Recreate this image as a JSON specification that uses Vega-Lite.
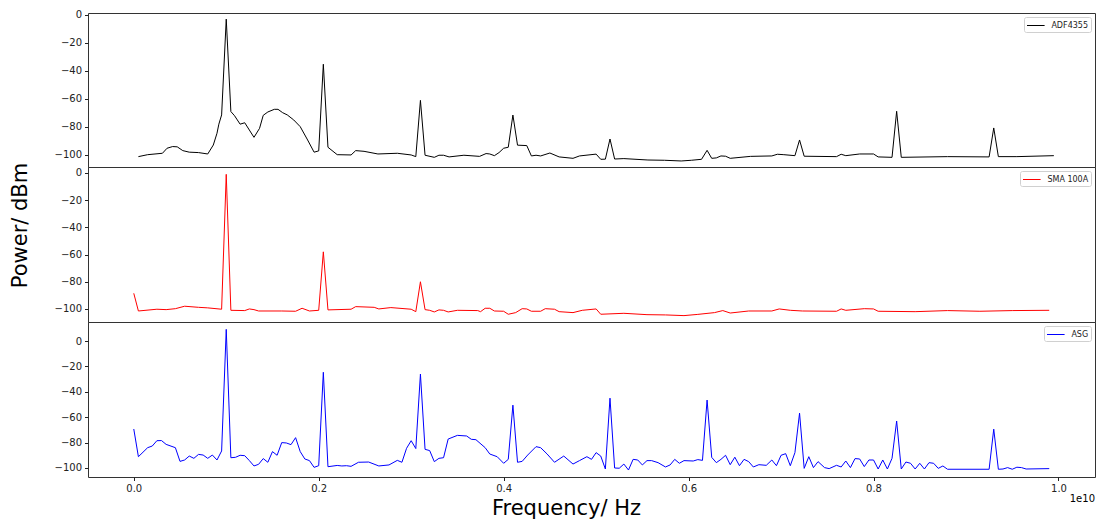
{
  "$schema": "https://vega.github.io/schema/vega-lite/v6.json",
  "description": "Spectra of three signal sources (ADF4355, SMA 100A, ASG), power against frequency, in three stacked panels.",
  "padding": {"left": 8, "top": 9, "right": 0, "bottom": 0},
  "spacing": 0,
  "bounds": "flush",
  "config": {
    "font": "DejaVu Sans",
    "view": {"stroke": "#333", "strokeWidth": 1},
    "axis": {
      "grid": false,
      "domain": false,
      "labelFont": "DejaVu Sans",
      "labelFontSize": 10,
      "labelColor": "#222",
      "labelPadding": 3,
      "labelOverlap": false,
      "tickColor": "#222",
      "tickSize": 3.5,
      "titleFont": "DejaVu Sans",
      "titleFontSize": 21,
      "titleFontWeight": "normal",
      "titleColor": "#000"
    },
    "legend": {
      "orient": "top-right",
      "offset": 4,
      "padding": 2.5,
      "title": null,
      "labelFont": "DejaVu Sans",
      "labelFontSize": 8,
      "labelColor": "#222",
      "labelOffset": 12.9,
      "symbolType": "M-1,0H2.2",
      "symbolSize": 121,
      "symbolStrokeWidth": 1,
      "symbolFillColor": "transparent",
      "strokeColor": "#d0d0d0",
      "fillColor": "#ffffff",
      "cornerRadius": 2
    }
  },
  "resolve": {
    "scale": {"x": "independent", "y": "independent", "color": "independent"},
    "legend": {"color": "independent"}
  },
  "datasets": {
    "adf": [
      {"f": 0.05, "p": -101.2}, {"f": 0.15, "p": -99.8}, {"f": 0.31, "p": -98.8}, {"f": 0.36, "p": -95.2},
      {"f": 0.42, "p": -94}, {"f": 0.47, "p": -94.2}, {"f": 0.53, "p": -96.9}, {"f": 0.6, "p": -98},
      {"f": 0.7, "p": -98.3}, {"f": 0.8, "p": -99.3}, {"f": 0.86, "p": -92.9}, {"f": 0.9, "p": -84.5},
      {"f": 0.92, "p": -78}, {"f": 0.95, "p": -71.4}, {"f": 1.0, "p": -3}, {"f": 1.05, "p": -69},
      {"f": 1.09, "p": -72}, {"f": 1.12, "p": -75}, {"f": 1.15, "p": -78}, {"f": 1.2, "p": -77},
      {"f": 1.3, "p": -87.4}, {"f": 1.36, "p": -81}, {"f": 1.4, "p": -71.7}, {"f": 1.45, "p": -69.3},
      {"f": 1.52, "p": -67.4}, {"f": 1.56, "p": -67.4}, {"f": 1.61, "p": -69.8}, {"f": 1.66, "p": -71.4},
      {"f": 1.73, "p": -75}, {"f": 1.8, "p": -79.8}, {"f": 1.88, "p": -89.3}, {"f": 1.95, "p": -98},
      {"f": 2.0, "p": -97.1}, {"f": 2.05, "p": -35.2}, {"f": 2.1, "p": -94.5}, {"f": 2.2, "p": -99.8},
      {"f": 2.35, "p": -100}, {"f": 2.4, "p": -96.9}, {"f": 2.49, "p": -97.4}, {"f": 2.64, "p": -99.3},
      {"f": 2.85, "p": -98.8}, {"f": 3.0, "p": -100}, {"f": 3.05, "p": -101.2}, {"f": 3.1, "p": -61},
      {"f": 3.15, "p": -100.2}, {"f": 3.25, "p": -101.7}, {"f": 3.3, "p": -100.2}, {"f": 3.35, "p": -100.2},
      {"f": 3.41, "p": -101.4}, {"f": 3.57, "p": -100.2}, {"f": 3.74, "p": -101}, {"f": 3.81, "p": -99},
      {"f": 3.85, "p": -99.3}, {"f": 3.9, "p": -100.5}, {"f": 3.95, "p": -98.3}, {"f": 4.0, "p": -95.2},
      {"f": 4.05, "p": -94.5}, {"f": 4.1, "p": -71.5}, {"f": 4.15, "p": -93}, {"f": 4.25, "p": -93.3},
      {"f": 4.3, "p": -100.7}, {"f": 4.35, "p": -100.2}, {"f": 4.4, "p": -100.7}, {"f": 4.5, "p": -98.6},
      {"f": 4.6, "p": -101.4}, {"f": 4.75, "p": -102.4}, {"f": 4.82, "p": -100.7}, {"f": 5.0, "p": -99.4},
      {"f": 5.05, "p": -103.1}, {"f": 5.1, "p": -103}, {"f": 5.15, "p": -88.6}, {"f": 5.2, "p": -102.9},
      {"f": 5.3, "p": -102.6}, {"f": 5.56, "p": -103.6}, {"f": 5.74, "p": -103.8}, {"f": 5.92, "p": -104.3},
      {"f": 6.03, "p": -103.8}, {"f": 6.14, "p": -103.1}, {"f": 6.2, "p": -96.7}, {"f": 6.25, "p": -102.4},
      {"f": 6.3, "p": -102.1}, {"f": 6.35, "p": -100.7}, {"f": 6.4, "p": -100.9}, {"f": 6.45, "p": -102.4},
      {"f": 6.67, "p": -101}, {"f": 6.9, "p": -100.7}, {"f": 6.96, "p": -99.5}, {"f": 7.03, "p": -99.8},
      {"f": 7.15, "p": -100.5}, {"f": 7.2, "p": -89.3}, {"f": 7.25, "p": -100.9}, {"f": 7.6, "p": -101.2},
      {"f": 7.65, "p": -99.5}, {"f": 7.7, "p": -100.5}, {"f": 7.85, "p": -99.3}, {"f": 8.0, "p": -99.3},
      {"f": 8.05, "p": -101.4}, {"f": 8.2, "p": -101.7}, {"f": 8.25, "p": -68.8}, {"f": 8.3, "p": -101.7},
      {"f": 8.8, "p": -101.2}, {"f": 9.25, "p": -101.4}, {"f": 9.3, "p": -80.7}, {"f": 9.35, "p": -101.2},
      {"f": 9.55, "p": -101.2}, {"f": 9.95, "p": -100.5}
    ],
    "sma": [
      {"f": 0.0, "p": -88.5}, {"f": 0.05, "p": -101.5}, {"f": 0.25, "p": -100.2}, {"f": 0.35, "p": -100.5},
      {"f": 0.45, "p": -99.8}, {"f": 0.55, "p": -98}, {"f": 0.7, "p": -98.8}, {"f": 0.8, "p": -99.2},
      {"f": 0.95, "p": -100.2}, {"f": 1.0, "p": -1}, {"f": 1.05, "p": -101}, {"f": 1.2, "p": -101.2},
      {"f": 1.25, "p": -100}, {"f": 1.3, "p": -100.5}, {"f": 1.35, "p": -101.5}, {"f": 1.6, "p": -101.5},
      {"f": 1.75, "p": -101.7}, {"f": 1.82, "p": -99.5}, {"f": 1.9, "p": -101.5}, {"f": 2.0, "p": -101},
      {"f": 2.05, "p": -58}, {"f": 2.1, "p": -100.7}, {"f": 2.35, "p": -100.2}, {"f": 2.4, "p": -98.3},
      {"f": 2.6, "p": -98.8}, {"f": 2.65, "p": -100}, {"f": 2.78, "p": -99}, {"f": 3.0, "p": -100.2},
      {"f": 3.05, "p": -102}, {"f": 3.1, "p": -80}, {"f": 3.15, "p": -100.5}, {"f": 3.2, "p": -101},
      {"f": 3.25, "p": -102.2}, {"f": 3.3, "p": -100.7}, {"f": 3.35, "p": -101}, {"f": 3.4, "p": -102.2},
      {"f": 3.5, "p": -101}, {"f": 3.72, "p": -101.2}, {"f": 3.75, "p": -102}, {"f": 3.8, "p": -99.5},
      {"f": 3.85, "p": -99.5}, {"f": 3.9, "p": -101.5}, {"f": 4.0, "p": -101.7}, {"f": 4.05, "p": -103.9},
      {"f": 4.13, "p": -102.7}, {"f": 4.2, "p": -99.8}, {"f": 4.25, "p": -100}, {"f": 4.3, "p": -101.7},
      {"f": 4.4, "p": -101.7}, {"f": 4.45, "p": -99.8}, {"f": 4.55, "p": -100.2}, {"f": 4.6, "p": -102},
      {"f": 4.75, "p": -102.7}, {"f": 4.85, "p": -101}, {"f": 5.0, "p": -100}, {"f": 5.05, "p": -103.9},
      {"f": 5.3, "p": -103.2}, {"f": 5.55, "p": -104.2}, {"f": 5.75, "p": -104.4}, {"f": 5.95, "p": -104.9},
      {"f": 6.1, "p": -104}, {"f": 6.28, "p": -102.7}, {"f": 6.37, "p": -101.2}, {"f": 6.45, "p": -103},
      {"f": 6.65, "p": -101.5}, {"f": 6.9, "p": -101.5}, {"f": 6.98, "p": -100}, {"f": 7.1, "p": -101},
      {"f": 7.23, "p": -101.5}, {"f": 7.6, "p": -101.7}, {"f": 7.65, "p": -100}, {"f": 7.7, "p": -101},
      {"f": 7.9, "p": -99.8}, {"f": 8.0, "p": -100}, {"f": 8.05, "p": -101.7}, {"f": 8.45, "p": -102},
      {"f": 8.8, "p": -101.2}, {"f": 9.15, "p": -101.7}, {"f": 9.5, "p": -101.2}, {"f": 9.9, "p": -101}
    ],
    "asg": [
      {"f": 0.0, "p": -69.3}, {"f": 0.05, "p": -91.1}, {"f": 0.15, "p": -84}, {"f": 0.2, "p": -82.7},
      {"f": 0.25, "p": -78.5}, {"f": 0.3, "p": -78.4}, {"f": 0.35, "p": -81.4}, {"f": 0.45, "p": -84},
      {"f": 0.5, "p": -94.8}, {"f": 0.55, "p": -93.7}, {"f": 0.6, "p": -90.6}, {"f": 0.65, "p": -92.4},
      {"f": 0.7, "p": -89.3}, {"f": 0.75, "p": -89.8}, {"f": 0.8, "p": -92.4}, {"f": 0.85, "p": -89.8},
      {"f": 0.9, "p": -93.7}, {"f": 0.95, "p": -86.6}, {"f": 1.0, "p": 9.2}, {"f": 1.05, "p": -91.9},
      {"f": 1.1, "p": -91.6}, {"f": 1.15, "p": -90}, {"f": 1.2, "p": -90.3}, {"f": 1.25, "p": -94.2},
      {"f": 1.3, "p": -98.4}, {"f": 1.35, "p": -97.1}, {"f": 1.4, "p": -92.6}, {"f": 1.45, "p": -95.5},
      {"f": 1.5, "p": -87.1}, {"f": 1.55, "p": -90}, {"f": 1.6, "p": -80}, {"f": 1.65, "p": -80.3},
      {"f": 1.7, "p": -81.6}, {"f": 1.75, "p": -76.1}, {"f": 1.8, "p": -87.1}, {"f": 1.85, "p": -92.9},
      {"f": 1.9, "p": -94.2}, {"f": 1.95, "p": -99.5}, {"f": 2.0, "p": -98.2}, {"f": 2.05, "p": -24.6},
      {"f": 2.1, "p": -99}, {"f": 2.2, "p": -98}, {"f": 2.25, "p": -98.4}, {"f": 2.3, "p": -98.2},
      {"f": 2.35, "p": -98.7}, {"f": 2.43, "p": -95.5}, {"f": 2.54, "p": -95.3}, {"f": 2.65, "p": -98.4},
      {"f": 2.76, "p": -97.6}, {"f": 2.85, "p": -94}, {"f": 2.9, "p": -95.5}, {"f": 2.95, "p": -84.5},
      {"f": 3.0, "p": -78.5}, {"f": 3.05, "p": -84.7}, {"f": 3.1, "p": -26}, {"f": 3.15, "p": -85.3},
      {"f": 3.2, "p": -86.3}, {"f": 3.25, "p": -95}, {"f": 3.3, "p": -92.4}, {"f": 3.35, "p": -91.9},
      {"f": 3.4, "p": -77.2}, {"f": 3.5, "p": -74.3}, {"f": 3.6, "p": -74.8}, {"f": 3.65, "p": -77.4},
      {"f": 3.7, "p": -77.7}, {"f": 3.8, "p": -84}, {"f": 3.85, "p": -89}, {"f": 3.93, "p": -91.1},
      {"f": 4.0, "p": -96.3}, {"f": 4.05, "p": -93.2}, {"f": 4.1, "p": -50.5}, {"f": 4.15, "p": -95.5},
      {"f": 4.2, "p": -94.8}, {"f": 4.26, "p": -89.8}, {"f": 4.35, "p": -83.2}, {"f": 4.4, "p": -84},
      {"f": 4.47, "p": -89}, {"f": 4.55, "p": -95.5}, {"f": 4.65, "p": -90.6}, {"f": 4.75, "p": -96.9},
      {"f": 4.82, "p": -94.2}, {"f": 4.9, "p": -91.1}, {"f": 4.95, "p": -93.2}, {"f": 5.0, "p": -87.9},
      {"f": 5.05, "p": -90.6}, {"f": 5.1, "p": -100.8}, {"f": 5.15, "p": -45}, {"f": 5.2, "p": -100},
      {"f": 5.25, "p": -100.2}, {"f": 5.3, "p": -96.9}, {"f": 5.35, "p": -101.6}, {"f": 5.4, "p": -93.2},
      {"f": 5.45, "p": -93.7}, {"f": 5.5, "p": -97.6}, {"f": 5.55, "p": -94.2}, {"f": 5.6, "p": -94.2},
      {"f": 5.67, "p": -95.8}, {"f": 5.75, "p": -99.2}, {"f": 5.8, "p": -97.6}, {"f": 5.85, "p": -93.2},
      {"f": 5.9, "p": -96.3}, {"f": 5.95, "p": -94.2}, {"f": 6.05, "p": -94.5}, {"f": 6.1, "p": -93.4},
      {"f": 6.15, "p": -94}, {"f": 6.2, "p": -46.5}, {"f": 6.25, "p": -91.6}, {"f": 6.3, "p": -95.8},
      {"f": 6.35, "p": -93.2}, {"f": 6.4, "p": -90}, {"f": 6.45, "p": -97.4}, {"f": 6.5, "p": -91.5},
      {"f": 6.55, "p": -98.2}, {"f": 6.6, "p": -93.2}, {"f": 6.65, "p": -95}, {"f": 6.7, "p": -99.2},
      {"f": 6.76, "p": -97.4}, {"f": 6.84, "p": -97.9}, {"f": 6.9, "p": -93.7}, {"f": 6.95, "p": -98.2},
      {"f": 7.0, "p": -90}, {"f": 7.05, "p": -88.7}, {"f": 7.1, "p": -98.2}, {"f": 7.15, "p": -87.9},
      {"f": 7.2, "p": -56.8}, {"f": 7.25, "p": -100.3}, {"f": 7.3, "p": -91.1}, {"f": 7.35, "p": -99.7},
      {"f": 7.4, "p": -95}, {"f": 7.47, "p": -99.7}, {"f": 7.52, "p": -100.5}, {"f": 7.6, "p": -97.9},
      {"f": 7.65, "p": -99.2}, {"f": 7.7, "p": -94.5}, {"f": 7.75, "p": -99.7}, {"f": 7.8, "p": -92.6},
      {"f": 7.85, "p": -92.9}, {"f": 7.9, "p": -98.9}, {"f": 7.95, "p": -93.7}, {"f": 8.0, "p": -93.7},
      {"f": 8.05, "p": -100.8}, {"f": 8.1, "p": -93.7}, {"f": 8.15, "p": -100.8}, {"f": 8.2, "p": -92.4},
      {"f": 8.25, "p": -63}, {"f": 8.3, "p": -100.8}, {"f": 8.35, "p": -95.3}, {"f": 8.4, "p": -96.3},
      {"f": 8.45, "p": -100.8}, {"f": 8.5, "p": -96.3}, {"f": 8.55, "p": -100.8}, {"f": 8.6, "p": -95.8},
      {"f": 8.65, "p": -96.3}, {"f": 8.7, "p": -100.3}, {"f": 8.75, "p": -98.4}, {"f": 8.8, "p": -101},
      {"f": 9.25, "p": -101}, {"f": 9.3, "p": -69.4}, {"f": 9.35, "p": -101}, {"f": 9.4, "p": -100.8},
      {"f": 9.45, "p": -99.7}, {"f": 9.5, "p": -101}, {"f": 9.55, "p": -99.4}, {"f": 9.6, "p": -99.7},
      {"f": 9.65, "p": -100.8}, {"f": 9.9, "p": -100.5}
    ]
  },
  "vconcat": [
    {
      "width": 1007,
      "height": 154,
      "data": {"name": "adf"},
      "mark": {"type": "line", "strokeWidth": 1},
      "encoding": {
        "x": {"field": "f", "type": "quantitative", "axis": null,
              "scale": {"domain": [-0.495, 10.395], "nice": false, "zero": false}},
        "y": {"field": "p", "type": "quantitative",
              "scale": {"domain": [-108.6, 1.4], "nice": false, "zero": false},
              "axis": {"title": null, "values": [0, -20, -40, -60, -80, -100]}},
        "color": {"datum": "ADF4355", "scale": {"range": ["#000000"]},
                  "legend": {"symbolStrokeColor": "#000000"}}
      }
    },
    {
      "width": 1007,
      "height": 155,
      "data": {"name": "sma"},
      "mark": {"type": "line", "strokeWidth": 1},
      "encoding": {
        "x": {"field": "f", "type": "quantitative", "axis": null,
              "scale": {"domain": [-0.495, 10.395], "nice": false, "zero": false}},
        "y": {"field": "p", "type": "quantitative",
              "scale": {"domain": [-109.6, 4.4], "nice": false, "zero": false},
              "axis": {"title": "Power/ dBm", "titleY": 58, "titlePadding": 24,
                       "values": [0, -20, -40, -60, -80, -100]}},
        "color": {"datum": "SMA 100A", "scale": {"range": ["#ff0000"]},
                  "legend": {"symbolStrokeColor": "#ff0000"}}
      }
    },
    {
      "width": 1007,
      "height": 155,
      "resolve": {"scale": {"x": "independent", "y": "independent"},
                  "axis": {"x": "independent", "y": "independent"}},
      "layer": [
        {
          "data": {"name": "asg"},
          "mark": {"type": "line", "strokeWidth": 1},
          "encoding": {
            "x": {"field": "f", "type": "quantitative",
                  "scale": {"domain": [-0.495, 10.395], "nice": false, "zero": false},
                  "axis": {"title": "Frequency/ Hz", "titleX": 478, "titlePadding": 4,
                           "values": [0, 2, 4, 6, 8, 10],
                           "labelExpr": "format(datum.value / 10, '.1f')"}},
            "y": {"field": "p", "type": "quantitative",
                  "scale": {"domain": [-107.1, 15], "nice": false, "zero": false},
                  "axis": {"title": null, "labelOverlap": false,
                           "values": [0, -20, -40, -60, -80, -100]}},
            "color": {"datum": "ASG", "scale": {"range": ["#0000ff"]},
                      "legend": {"symbolStrokeColor": "#0000ff"}}
          }
        },
        {
          "data": {"values": [{"t": "1e10"}]},
          "mark": {"type": "text", "align": "right", "baseline": "top", "dy": 17,
                   "fontSize": 10, "font": "DejaVu Sans"},
          "encoding": {
            "x": {"datum": 10.395, "axis": null,
                  "scale": {"domain": [-0.495, 10.395], "nice": false, "zero": false}},
            "y": {"datum": -107.1, "axis": null,
                  "scale": {"domain": [-107.1, 15], "nice": false, "zero": false}},
            "text": {"field": "t"}
          }
        }
      ]
    }
  ]
}
